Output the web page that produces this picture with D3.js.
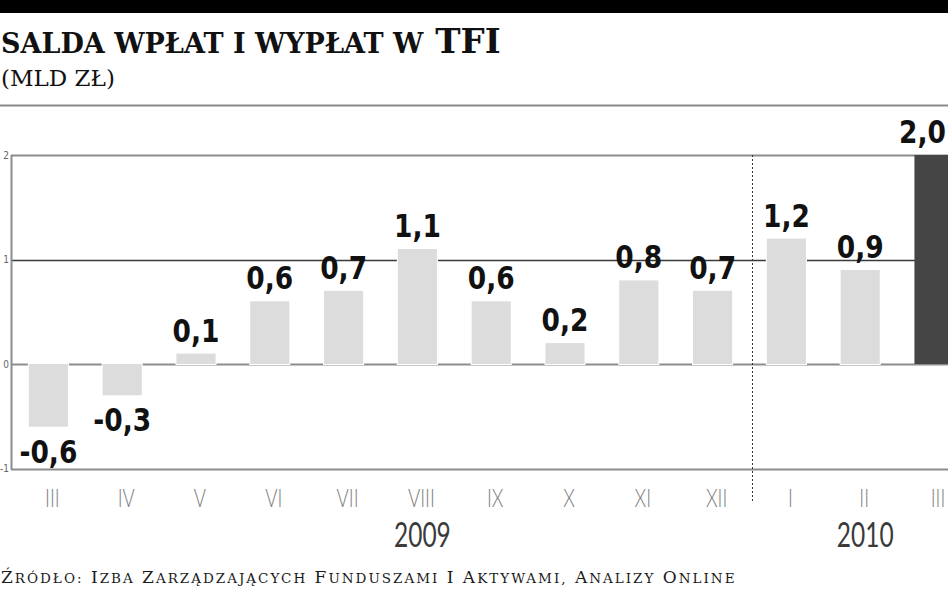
<!DOCTYPE html>
<html><head><meta charset="utf-8">
<script src="https://cdn.jsdelivr.net/npm/d3@7"></script>
<style>
html,body{margin:0;padding:0;background:#fff;overflow:hidden}
svg{display:block}
</style></head>
<body>
<script>
// ---- data ----
const months = ["III","IV","V","VI","VII","VIII","IX","X","XI","XII","I","II","III"];
const years  = [2009,2009,2009,2009,2009,2009,2009,2009,2009,2009,2010,2010,2010];
const values = [-0.6,-0.3,0.1,0.6,0.7,1.1,0.6,0.2,0.8,0.7,1.2,0.9,2.0];
const yearLabels = [{year:"2009", at:5},{year:"2010", at:11}];
const yTicks = [-1,0,1,2];
const titleWords = ["SALDA","WPŁAT","I","WYPŁAT","W","TFI"];
const subtitle = "(MLD ZŁ)";
const source = "ŹRÓDŁO: IZBA ZARZĄDZAJĄCYCH FUNDUSZAMI I AKTYWAMI, ANALIZY ONLINE";

const W = 948, H = 593;
const svg = d3.select("body").append("svg").attr("width",W).attr("height",H);

const keys = months.map((m,i)=>years[i]+"-"+m);
const x = d3.scaleBand().domain(keys).range([11.5, 11.5 + 13*73.8]).paddingInner(0.47).paddingOuter(0.235);
const y = d3.scaleLinear().domain([-1,2]).range([468.5,155]);
const fmt = v => d3.format(".1f")(v).replace(".",",").replace("−","-");

// top band and separator
svg.append("rect").attr("x",0).attr("y",0).attr("width",W).attr("height",13).attr("fill","#000");
svg.append("line").attr("x1",0).attr("x2",W).attr("y1",105.5).attr("y2",105.5).attr("stroke","#8a8a8a").attr("stroke-width",2);

// title (small caps, TFI in full caps)
const t = svg.append("text").attr("x",1).attr("y",53).attr("font-family","DejaVu Serif").attr("font-weight","bold").attr("fill","#111");
titleWords.forEach((w,i)=>{
  t.append("tspan").attr("font-size", w==="TFI"?34:27).text((i?" ":"")+w);
});

svg.append("text").attr("x",1).attr("y",86).attr("font-family","DejaVu Serif").attr("font-size",23).attr("fill","#111").text(subtitle);

// gridlines
svg.append("g").selectAll("line").data(yTicks).join("line")
  .attr("x1",11).attr("x2",W)
  .attr("y1",d=>Math.round(y(d))+0.5).attr("y2",d=>Math.round(y(d))+0.5)
  .attr("stroke",d=>d===1?"#3a3a3a":"#8c8c8c")
  .attr("stroke-width",d=>d===1?1.3:2);
// left axis
svg.append("line").attr("x1",11.5).attr("x2",11.5).attr("y1",y(2)).attr("y2",y(-1)+1).attr("stroke","#8c8c8c").attr("stroke-width",2);
// y tick labels
svg.append("g").selectAll("text").data(yTicks).join("text")
  .attr("x",9).attr("y",d=>y(d)).attr("dy","0.35em").attr("text-anchor","end")
  .attr("font-family","DejaVu Sans Condensed").attr("font-size",10).attr("fill","#666").text(d=>d);

// dashed year separator
const sepX = x(keys[10]) - (x.step()-x.bandwidth())/2 + 3;
svg.append("line").attr("x1",sepX).attr("x2",sepX).attr("y1",y(2)).attr("y2",503)
  .attr("stroke","#333").attr("stroke-width",1).attr("stroke-dasharray","2,2");

// bars
svg.append("g").selectAll("rect").data(values).join("rect")
  .attr("x",(d,i)=>x(keys[i]))
  .attr("width",x.bandwidth())
  .attr("y",d=>y(Math.max(0,d)))
  .attr("height",d=>Math.abs(y(d)-y(0)))
  .attr("fill",(d,i)=>i===values.length-1?"#454545":"#dcdcdc")
  .attr("stroke","#fff").attr("stroke-width",(d,i)=>i===values.length-1?0:2)
  .attr("paint-order","stroke");

// value labels (last one kept inside the picture)
const vl = svg.append("g").selectAll("text").data(values).join("text")
  .attr("text-anchor","middle")
  .attr("font-family","DejaVu Sans Condensed").attr("font-weight","bold")
  .attr("font-size",32).attr("fill","#111")
  .text(d=>fmt(d));
vl.each(function(d,i){
  const w = this.getComputedTextLength()*0.92;
  let cx = x(keys[i])+x.bandwidth()/2;
  if (cx + w/2 > W-2) cx = W-2-w/2;
  d3.select(this).attr("transform",`translate(${cx},${d>=0? y(d)-12 : y(d)+36}) scale(0.92,1)`);
});

// month labels
svg.append("g").selectAll("text").data(months).join("text")
  .attr("transform",(d,i)=>`translate(${x(keys[i])+x.bandwidth()/2+4},507) scale(0.72,1)`)
  .attr("text-anchor","middle")
  .attr("font-family","Lato").attr("font-weight","300").attr("font-size",26).attr("fill","#808080")
  .text(d=>d);

// year labels
svg.append("g").selectAll("text").data(yearLabels).join("text")
  .attr("transform",d=>`translate(${x(keys[d.at])+x.bandwidth()/2+5},547) scale(0.72,1)`)
  .attr("text-anchor","middle")
  .attr("font-family","Lato").attr("font-weight","400").attr("font-size",34).attr("fill","#3a3a3a")
  .text(d=>d.year);

// source (small caps)
const src = svg.append("text").attr("x",1).attr("y",583).attr("font-family","DejaVu Serif").attr("fill","#1a1a1a").attr("letter-spacing",2);
source.split(" ").forEach((w,i)=>{
  src.append("tspan").attr("font-size",17).text((i?" ":"")+w[0]);
  if(w.length>1) src.append("tspan").attr("font-size",13.5).text(w.slice(1));
});
</script>
</body></html>
